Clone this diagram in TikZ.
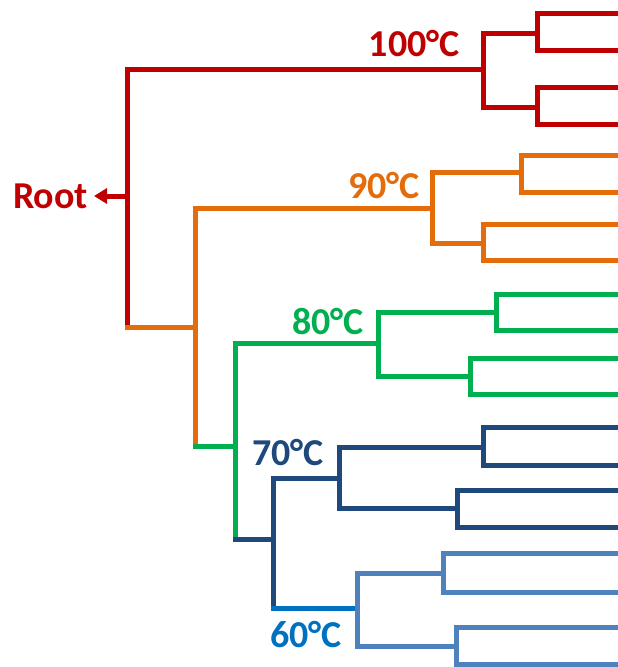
\documentclass[tikz,border=0pt]{standalone}
\usepackage{fontspec}
\setmainfont{Carlito}
\usetikzlibrary{arrows.meta}
\definecolor{cRed}{RGB}{192,0,0}
\definecolor{cOrange}{RGB}{228,108,10}
\definecolor{cGreen}{RGB}{0,176,80}
\definecolor{cDark}{RGB}{31,73,125}
\definecolor{cLight}{RGB}{79,129,189}
\definecolor{cBright}{RGB}{0,112,192}
\tikzset{
  branch/.style={line width=5pt, line cap=rect, line join=miter},
  templabel/.style={anchor=east, inner sep=0pt, font=\fontsize{38}{42}\selectfont\bfseries},
}
\begin{document}
\begin{tikzpicture}[x=1pt,y=-1pt]
\useasboundingbox (0,0) rectangle (618,667);
% ---------- labels
\node[templabel, text=cRed] (root) at (88,196) {Root};
\node[templabel, text=cRed] (l100) at (460,44) {100°C};
\node[templabel, text=cOrange] (l90) at (420,185) {90°C};
\node[templabel, text=cGreen] (l80) at (364,322) {80°C};
\node[templabel, text=cDark] (l70) at (324,452) {70°C};
\node[templabel, text=cBright] (l60) at (342,635) {60°C};
% ---------- junction coordinates
\coordinate (rArrow) at (127,196);
\coordinate (rTip) at (94,196);
% red
\coordinate (rTop) at (127,69);
\coordinate (rBot) at (127,327);
\coordinate (j100) at (483,69);
% orange
\coordinate (oStem) at (195,327);
\coordinate (oTop) at (195,208);
\coordinate (oBot) at (195,446);
\coordinate (j90) at (432,208);
% green
\coordinate (gStem) at (235,446);
\coordinate (gTop) at (235,343);
\coordinate (gBot) at (235,539);
\coordinate (j80) at (378,343);
% dark blue
\coordinate (dStem) at (273,539);
\coordinate (dTop) at (273,478);
\coordinate (dBot) at (273,608);
\coordinate (j70) at (339,478);
% light blue
\coordinate (lStem) at (357,608);
% ---------- red clade (100 C)
\draw[branch, cRed] (j100) -- (rTop) -- (rBot);
\draw[branch, cRed] (537,33) -- (483,33) -- (483,107) -- (537,107);
\draw[branch, cRed] (618,13) -- (537,13) -- (537,50) -- (618,50);
\draw[branch, cRed] (618,87) -- (537,87) -- (537,124) -- (618,124);
\draw[branch, cRed, line cap=butt, -{Triangle[length=13pt,width=15pt]}] (rArrow) -- (rTip);
% ---------- orange clade (90 C)
\draw[branch, cOrange] (rBot) -- (oStem);
\draw[branch, cOrange] (j90) -- (oTop) -- (oBot);
\draw[branch, cOrange] (521,172) -- (432,172) -- (432,243) -- (483,243);
\draw[branch, cOrange] (618,155) -- (521,155) -- (521,192) -- (618,192);
\draw[branch, cOrange] (618,224) -- (483,224) -- (483,260) -- (618,260);
% ---------- green clade (80 C)
\draw[branch, cGreen] (oBot) -- (gStem);
\draw[branch, cGreen] (j80) -- (gTop) -- (gBot);
\draw[branch, cGreen] (496,312) -- (378,312) -- (378,376) -- (470,376);
\draw[branch, cGreen] (618,294) -- (496,294) -- (496,330) -- (618,330);
\draw[branch, cGreen] (618,358) -- (470,358) -- (470,394) -- (618,394);
% ---------- dark blue clade (70 C)
\draw[branch, cDark] (gBot) -- (dStem);
\draw[branch, cDark] (j70) -- (dTop) -- (dBot);
\draw[branch, cDark] (483,447) -- (339,447) -- (339,508) -- (457,508);
\draw[branch, cDark] (618,427) -- (483,427) -- (483,465) -- (618,465);
\draw[branch, cDark] (618,490) -- (457,490) -- (457,527) -- (618,527);
% ---------- light blue clade (60 C)
\draw[branch, cBright] (dBot) -- (lStem);
\draw[branch, cLight] (443,573) -- (357,573) -- (357,646) -- (456,646);
\draw[branch, cLight] (618,553) -- (443,553) -- (443,592) -- (618,592);
\draw[branch, cLight] (618,627) -- (456,627) -- (456,664) -- (618,664);
\end{tikzpicture}
\end{document}
